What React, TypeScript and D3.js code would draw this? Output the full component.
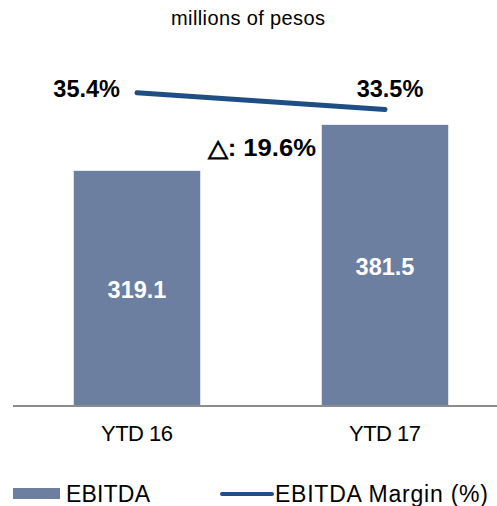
import React from 'react';
import * as d3 from 'd3';

// 데이터
const categories = ['YTD 16', 'YTD 17'];
const ebitda = [319.1, 381.5];
const margin = [35.4, 33.5];
const deltaLabel = '△: 19.6%';

const W = 497;
const H = 506;
const baseY = 406;

const App: React.FC = () => {
  // 막대 위치: 73-200, 321-447
  const x = d3.scaleBand().domain(categories).range([13, 509]).paddingInner(0.49).paddingOuter(0.245);
  const y = d3.scaleLinear().domain([0, 400]).range([baseY, baseY - 294.8]);
  // 마진 라인은 별도 축
  const y2 = d3.scaleLinear().domain([30, 40]).range([140.5, 52.0]);

  const cx = (c: string) => (x(c) ?? 0) + x.bandwidth() / 2;
  const line = d3
    .line<number>()
    .x((_, i) => cx(categories[i]))
    .y((d) => y2(d));

  const font = 'Arial, "Liberation Sans", sans-serif';
  const barColor = '#6c7fa1';
  const lineColor = '#1f4e84';

  return (
    <svg width={W} height={H} style={{ position: 'absolute', left: 0, top: 0 }} fontFamily={font}>
      <rect width={W} height={H} fill="#fff" />
      <text x={248} y={25} textAnchor="middle" fontSize={20} fill="#000" textLength={154} lengthAdjust="spacing">
        millions of pesos
      </text>

      {categories.map((c, i) => (
        <g key={c}>
          <rect x={x(c)} y={y(ebitda[i])} width={x.bandwidth()} height={baseY - y(ebitda[i])} fill={barColor} />
          <text
            x={cx(c)}
            y={(y(ebitda[i]) + baseY) / 2 + 9.5}
            textAnchor="middle"
            fontSize={23.5}
            fontWeight="bold"
            fill="#fff"
          >
            {ebitda[i].toFixed(1)}
          </text>
          <text x={cx(c)} y={441} textAnchor="middle" fontSize={22} fill="#000" textLength={72} lengthAdjust="spacing">
            {c}
          </text>
        </g>
      ))}

      <line x1={13} x2={497} y1={baseY} y2={baseY} stroke="#8c8c8c" strokeWidth={2} />

      <path d={line(margin) ?? ''} fill="none" stroke={lineColor} strokeWidth={5} strokeLinecap="round" />
      <text x={120} y={97} textAnchor="end" fontSize={23.5} fontWeight="bold">
        {margin[0].toFixed(1)}%
      </text>
      <text x={390} y={97} textAnchor="middle" fontSize={23.5} fontWeight="bold">
        {margin[1].toFixed(1)}%
      </text>

      <text x={316} y={156} textAnchor="end" fontSize={23.5} fontWeight="bold" textLength={108} lengthAdjust="spacingAndGlyphs">
        {deltaLabel}
      </text>

      <rect x={13} y={488} width={47} height={11} fill={barColor} />
      <text x={66} y={502} fontSize={23} textLength={84} lengthAdjust="spacing">
        EBITDA
      </text>
      <line x1={222} x2={272} y1={494} y2={494} stroke={lineColor} strokeWidth={4} strokeLinecap="round" />
      <text x={275} y={502} fontSize={23} textLength={213} lengthAdjust="spacing">
        EBITDA Margin (%)
      </text>
    </svg>
  );
};

export default App;
